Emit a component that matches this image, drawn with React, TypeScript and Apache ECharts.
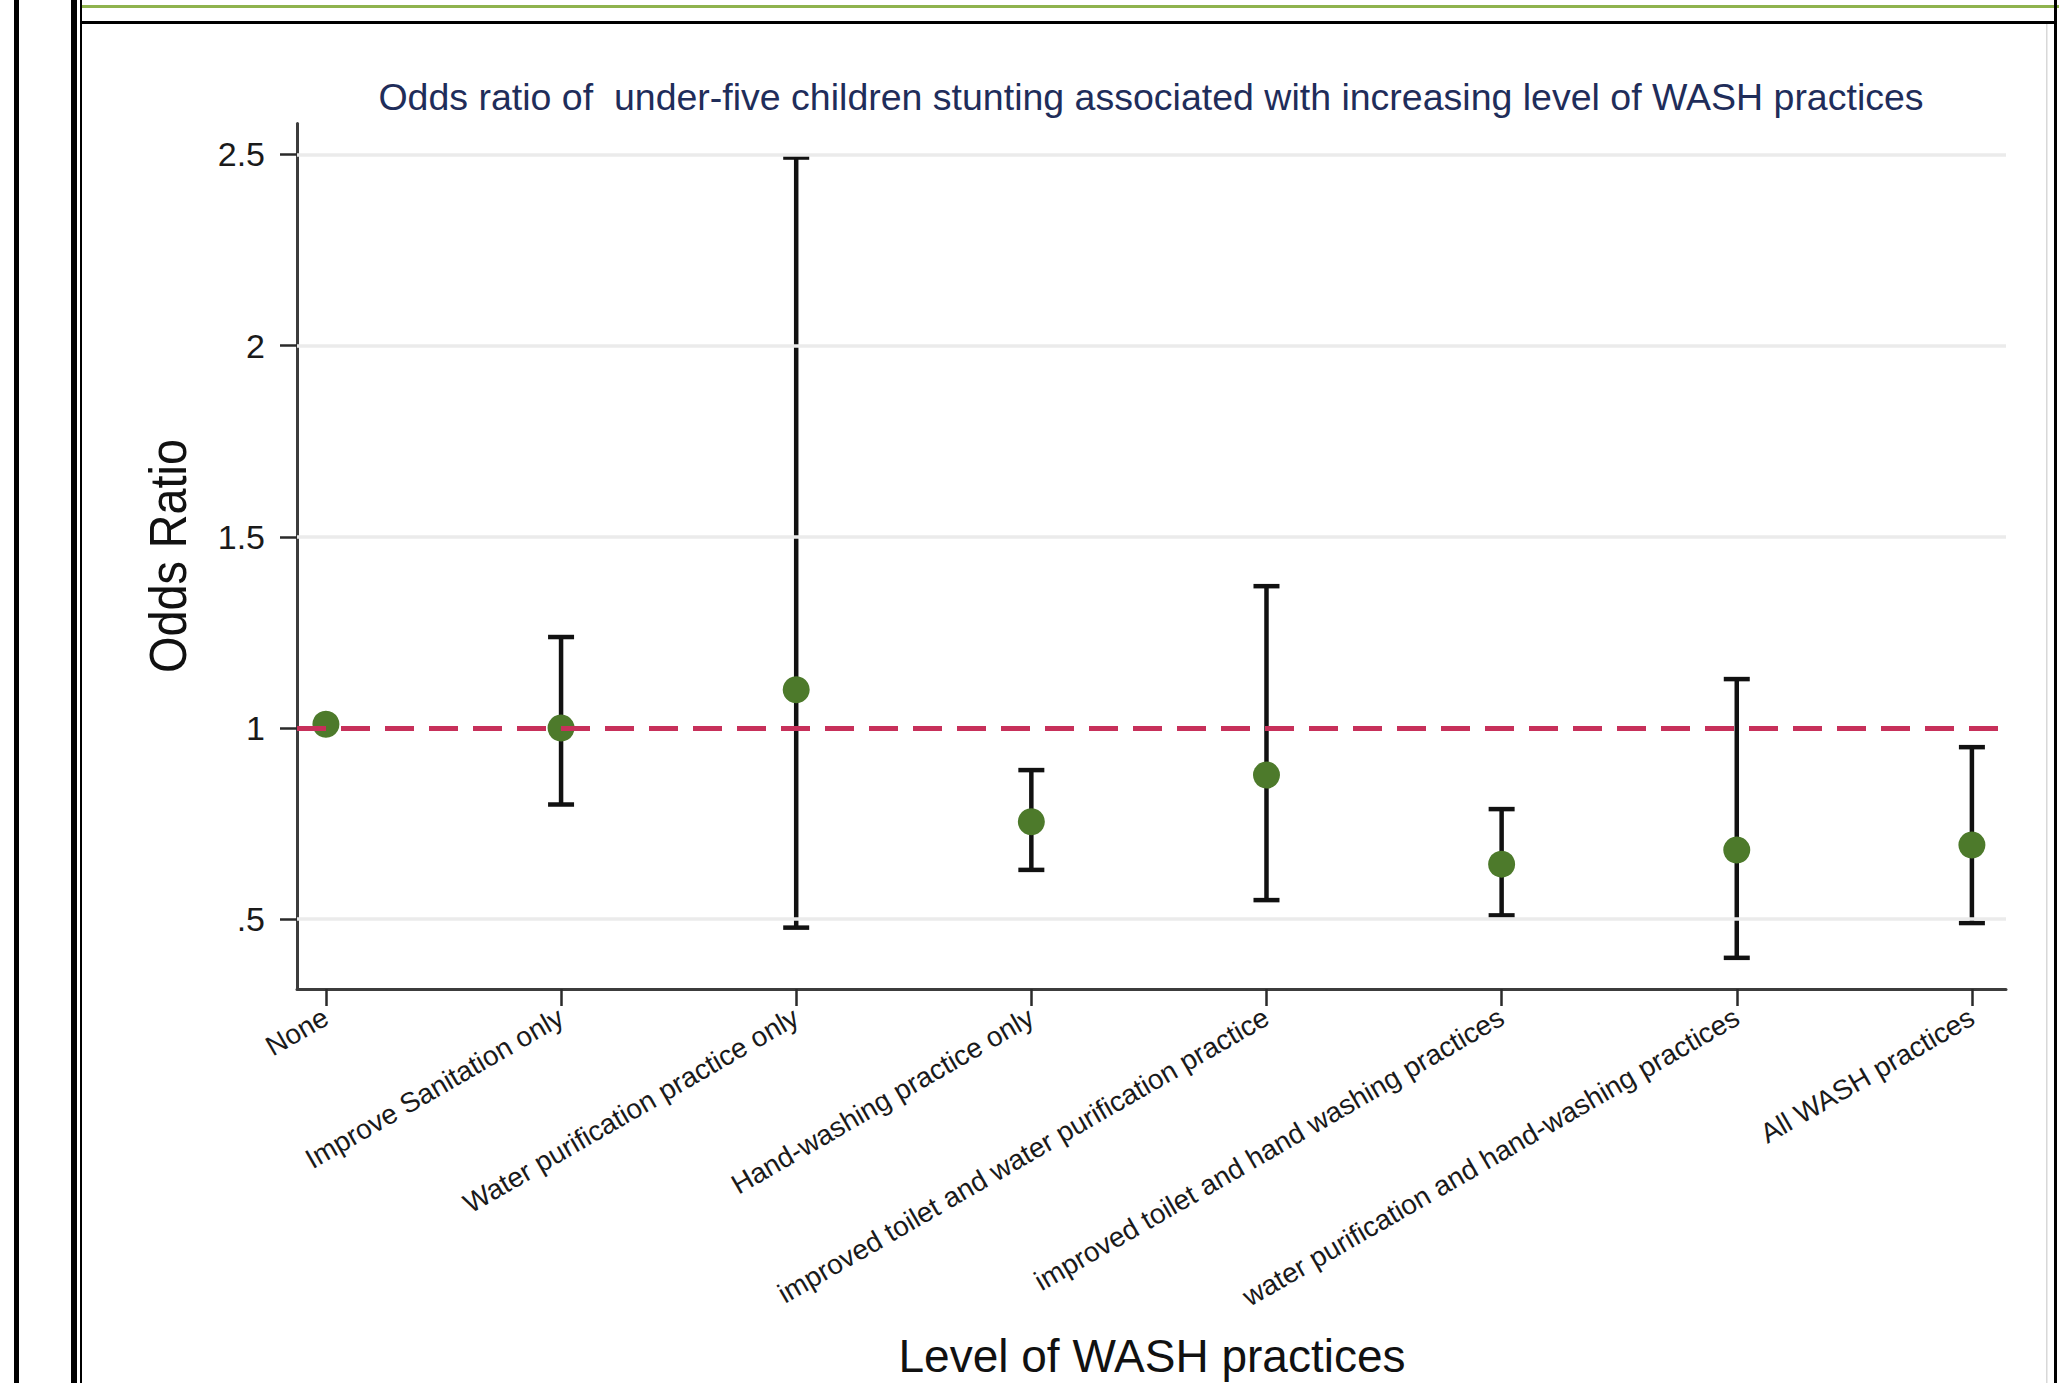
import React, { useEffect, useRef } from "react";
import * as echarts from "echarts";

const categories = [
  "None",
  "Improve Sanitation only",
  "Water purification practice only",
  "Hand-washing practice only",
  "improved toilet and water purification practice",
  "improved toilet and hand washing practices",
  "water purification and hand-washing practices",
  "All WASH practices",
];
const oddsRatio = [1.01, 1.0, 1.1, 0.755, 0.877, 0.644, 0.681, 0.694];
const ciLower = [null, 0.8, 0.478, 0.629, 0.55, 0.51, 0.399, 0.49];
const ciUpper = [null, 1.238, 2.492, 0.89, 1.371, 0.788, 1.128, 0.95];
const yTicks = [0.5, 1, 1.5, 2, 2.5];
const yTickLabels = [".5", "1", "1.5", "2", "2.5"];
const gridValues = [0.5, 1.5, 2, 2.5];
const refValue = 1;

const FONT = "'Liberation Sans', Arial, Helvetica, sans-serif";

export default function App() {
  const ref = useRef<HTMLDivElement>(null);
  useEffect(() => {
    if (!ref.current) return;
    const chart = echarts.init(ref.current, null, { renderer: "svg" });
    const xIdx = categories.map((_, i) => i);
    const errData = xIdx
      .filter((i) => ciLower[i] != null && ciUpper[i] != null)
      .map((i) => [i, ciLower[i], ciUpper[i]]);
    const ptData = xIdx.map((i) => [i, oddsRatio[i]]);

    const option: any = {
      animation: false,
      backgroundColor: "#ffffff",
      grid: {
        left: 297,
        right: 53,
        top: 123.5,
        bottom: 394,
        containLabel: false,
        outerBoundsMode: "none",
      },
      xAxis: {
        type: "value",
        min: -0.123,
        max: 7.145,
        axisLine: { show: true, onZero: false, lineStyle: { color: "#3c3c3c", width: 3 } },
        axisTick: {
          show: true,
          customValues: xIdx,
          length: 17,
          lineStyle: { color: "#2a2a2a", width: 2.5 },
        },
        axisLabel: {
          show: true,
          customValues: xIdx,
          rotate: 30,
          margin: 26,
          fontSize: 28,
          fontFamily: FONT,
          color: "#1a1a1a",
          formatter: (v: number) => categories[Math.round(v)] ?? "",
        },
        splitLine: { show: false },
      },
      yAxis: {
        type: "value",
        min: 0.3175,
        max: 2.581,
        axisLine: { show: true, onZero: false, lineStyle: { color: "#3c3c3c", width: 3 } },
        axisTick: {
          show: true,
          customValues: yTicks,
          length: 17,
          lineStyle: { color: "#2a2a2a", width: 2.5 },
        },
        axisLabel: {
          show: true,
          customValues: yTicks,
          margin: 32,
          fontSize: 34,
          fontFamily: FONT,
          color: "#1a1a1a",
          formatter: (v: number) => {
            const k = yTicks.findIndex((t) => Math.abs(t - v) < 1e-6);
            return k >= 0 ? yTickLabels[k] : "";
          },
        },
        splitLine: { show: false },
      },
      series: [
        {
          type: "line",
          data: [],
          z: 1,
          silent: true,
          markLine: {
            silent: true,
            symbol: "none",
            label: { show: false },
            lineStyle: { color: "#ebebeb", width: 3.5, type: "solid" },
            data: gridValues.map((v) => ({ yAxis: v })),
          },
        },
        {
          type: "line",
          data: [],
          z: 2,
          silent: true,
          markLine: {
            silent: true,
            symbol: "none",
            label: { show: false },
            lineStyle: { color: "#c7305a", width: 5, type: [29, 15] },
            data: [{ yAxis: refValue }],
          },
        },
        {
          type: "custom",
          z: 3,
          silent: true,
          encode: { x: 0, y: [1, 2] },
          data: errData,
          renderItem: (params: any, api: any) => {
            const x = api.value(0);
            const lo = api.value(1);
            const hi = api.value(2);
            const top = api.coord([x, hi]);
            const bot = api.coord([x, lo]);
            const cw = 13;
            const st = { stroke: "#111111", lineWidth: 4.5 };
            return {
              type: "group",
              children: [
                { type: "line", shape: { x1: top[0], y1: top[1], x2: bot[0], y2: bot[1] }, style: st },
                { type: "line", shape: { x1: top[0] - cw, y1: top[1], x2: top[0] + cw, y2: top[1] }, style: st },
                { type: "line", shape: { x1: bot[0] - cw, y1: bot[1], x2: bot[0] + cw, y2: bot[1] }, style: st },
              ],
            };
          },
        },
        {
          type: "scatter",
          z: 4,
          symbol: "circle",
          symbolSize: 27,
          itemStyle: { color: "#4d7a2b", opacity: 1 },
          data: ptData,
        },
      ],
      graphic: [
        { type: "rect", shape: { x: 14, y: 0, width: 5, height: 1383 }, style: { fill: "#000" } },
        { type: "rect", shape: { x: 71, y: 0, width: 6, height: 1383 }, style: { fill: "#000" } },
        { type: "rect", shape: { x: 80, y: 0, width: 2, height: 1383 }, style: { fill: "#000" } },
        { type: "rect", shape: { x: 82, y: 5, width: 1977, height: 3 }, style: { fill: "#8fb34e" } },
        { type: "rect", shape: { x: 80, y: 21, width: 1977, height: 3 }, style: { fill: "#000" } },
        { type: "rect", shape: { x: 2054, y: 0, width: 3, height: 1383 }, style: { fill: "#000" } },
        { type: "rect", shape: { x: 2046, y: 24, width: 1.5, height: 1359 }, style: { fill: "#d8d8d8" } },
        {
          type: "text",
          x: 1151,
          y: 97,
          style: {
            text: "Odds ratio of  under-five children stunting associated with increasing level of WASH practices",
            fontSize: 37.5,
            fontFamily: FONT,
            fill: "#1f2d5a",
            align: "center",
            verticalAlign: "middle",
          },
        },
        {
          type: "text",
          x: 168,
          y: 556,
          rotation: Math.PI / 2,
          scaleX: 0.9,
          style: {
            text: "Odds Ratio",
            fontSize: 52,
            fontFamily: FONT,
            fill: "#111111",
            align: "center",
            verticalAlign: "middle",
          },
        },
        {
          type: "text",
          x: 1152,
          y: 1356,
          style: {
            text: "Level of WASH practices",
            fontSize: 46,
            fontFamily: FONT,
            fill: "#111111",
            align: "center",
            verticalAlign: "middle",
          },
        },
      ],
    };
    chart.setOption(option);
    return () => chart.dispose();
  }, []);
  return (
    <div
      ref={ref}
      style={{ position: "fixed", left: 0, top: 0, width: 2059, height: 1383, background: "#fff" }}
    />
  );
}
